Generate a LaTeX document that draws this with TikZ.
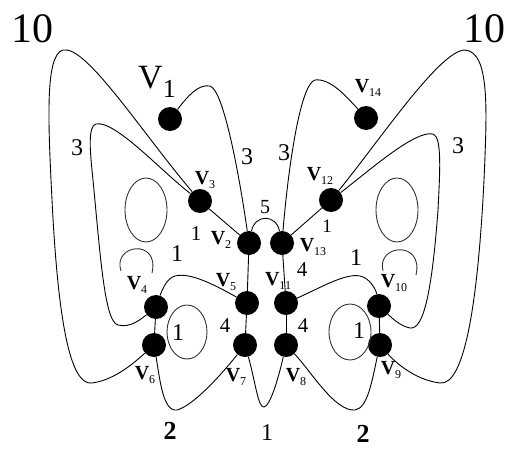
\documentclass[tikz,border=0pt]{standalone}
\usepackage{fontspec}
\setmainfont{Liberation Serif}
\usepackage{tikz}
\usetikzlibrary{positioning}

\newcommand{\vlab}[1]{\textbf{V}\raisebox{-.35ex}{\fontsize{12}{12}\selectfont #1}}

\begin{document}
\begin{tikzpicture}[
  x=1pt, y=-1pt,
  vtx/.style={circle, fill=black, inner sep=0pt, minimum size=24pt},
  edge/.style={line width=0.9pt},
  oval/.style={line width=0.9pt, draw=black!80},
  vname/.style={font=\fontsize{20}{20}\selectfont, inner sep=0pt},
  wt/.style={font=\fontsize{24}{24}\selectfont, inner sep=0pt},
  bigwt/.style={font=\fontsize{42}{42}\selectfont, inner sep=0pt},
]
\useasboundingbox (0,0) rectangle (516,450);
% ---------------- vertices -----------------
\node[vtx] (v1) at (170,119) {};
\node[vtx] (v14) at (366,118) {};
\node[vtx] (v3) at (200,201) {};
\node[vtx] (v12) at (331,200) {};
\node[vtx] (v2) at (249,243) {};
\node[vtx] (v13) at (282,243) {};
\node[vtx] (v5) at (247,303) {};
\node[vtx] (v11) at (286,303) {};
\node[vtx] (v7) at (245,345) {};
\node[vtx] (v8) at (286,345) {};
\node[vtx] (v4) at (156,307) {};
\node[vtx] (v6) at (154,345) {};
\node[vtx] (v10) at (379,306) {};
\node[vtx] (v9) at (380,345) {};
% ---------------- vertex names -----------------
\node[inner sep=0pt, font=\fontsize{34}{34}\selectfont] (n1) at (157,82) {V\raisebox{-.25em}{\fontsize{26}{26}\selectfont 1}};
\node[vname] (n14) at (368,88) {\vlab{14}};
\node[vname] (n3) at (205,180) {\vlab{3}};
\node[vname] (n12) at (320,176) {\vlab{12}};
\node[vname] (n2) at (221,240) {\vlab{2}};
\node[vname] (n13) at (313,247) {\vlab{13}};
\node[vname] (n5) at (226,282) {\vlab{5}};
\node[vname] (n11) at (278,281) {\vlab{11}};
\node[vname] (n4) at (137,285) {\vlab{4}};
\node[vname] (n6) at (145,375) {\vlab{6}};
\node[vname] (n7) at (236,377) {\vlab{7}};
\node[vname] (n8) at (296,377) {\vlab{8}};
\node[vname] (n9) at (391,370) {\vlab{9}};
\node[vname] (n10) at (394,283) {\vlab{10}};
% ---------------- weights -----------------
\node[bigwt] (w10l) at (32,29) {10};
\node[bigwt] (w10r) at (484,29) {10};
\node[wt] (w3a) at (77,148) {3};
\node[wt] (w3b) at (458,146) {3};
\node[wt] (w3c) at (247,157) {3};
\node[wt] (w3d) at (284,153) {3};
\node[wt, font=\fontsize{21}{21}\selectfont] (w1a) at (196,234) {1};
\node[wt, font=\fontsize{20}{20}\selectfont] (w5) at (265,207) {5};
\node[wt, font=\fontsize{19}{19}\selectfont] (w1b) at (327,226) {1};
\node[wt] (w1c) at (177,254) {1};
\node[wt] (w1d) at (356,258) {1};
\node[wt, font=\fontsize{21}{21}\selectfont] (w4a) at (302,270) {4};
\node[wt, font=\fontsize{21}{21}\selectfont] (w4b) at (225,326) {4};
\node[wt, font=\fontsize{21}{21}\selectfont] (w4c) at (303,326) {4};
\node[wt] (w1e) at (178,333) {1};
\node[wt] (w1f) at (359,331) {1};
\node[wt, font=\bfseries\fontsize{26}{26}\selectfont] (w2a) at (170,431) {2};
\node[wt, font=\bfseries\fontsize{26}{26}\selectfont] (w2b) at (363,434) {2};
\node[wt] (w1g) at (267,433) {1};
% ---------------- straight edges -----------------
\draw[edge] (v3) -- (v2);
\draw[edge] (v12) -- (v13);
\draw[edge] (v2) -- (v5);
\draw[edge] (v5) -- (v7);
\draw[edge] (v13) -- (v11);
\draw[edge] (v11) -- (v8);
\draw[edge] (v4) -- (v6);
\draw[edge] (v10) -- (v9);
% ---------------- curved edges -----------------
\draw[edge] (v1) .. controls (188,96) and (198,84) .. (210,86)
  .. controls (224,90) and (240,180) .. (v2);
\draw[edge] (v14) .. controls (346,96) and (330,78) .. (315,80)
  .. controls (300,84) and (288,170) .. (v13);
\draw[edge] (v2) .. controls (255,214) and (276,214) .. (v13);
\draw[edge] (v3) .. controls (140,130) and (86,45) .. (63,50)
  .. controls (45,55) and (48,120) .. (52,200)
  .. controls (58,320) and (70,386) .. (92,383)
  .. controls (115,380) and (135,362) .. (v6);
\draw[edge] (v3) .. controls (160,170) and (115,120) .. (96,124)
  .. controls (88,126) and (90,150) .. (92,170)
  .. controls (100,250) and (104,322) .. (118,325)
  .. controls (130,328) and (140,320) .. (v4);
\draw[edge] (v12) .. controls (380,140) and (440,50) .. (465,50)
  .. controls (490,52) and (487,110) .. (484,180)
  .. controls (478,300) and (465,386) .. (440,383)
  .. controls (415,380) and (395,362) .. (v9);
\draw[edge] (v12) .. controls (370,170) and (415,130) .. (433,134)
  .. controls (442,137) and (440,170) .. (438,210)
  .. controls (432,290) and (424,330) .. (410,328)
  .. controls (400,326) and (392,318) .. (v10);
\draw[edge] (v5) .. controls (215,285) and (190,272) .. (175,276)
  .. controls (167,278) and (162,290) .. (v4);
\draw[edge] (v11) .. controls (320,288) and (345,273) .. (360,276)
  .. controls (370,278) and (376,290) .. (v10);
\draw[edge] (v6) .. controls (160,380) and (163,412) .. (177,410)
  .. controls (195,405) and (225,370) .. (v7);
\draw[edge] (v8) .. controls (310,370) and (335,412) .. (355,410)
  .. controls (368,408) and (372,380) .. (v9);
\draw[edge] (v7) .. controls (255,380) and (258,408) .. (264,407)
  .. controls (270,406) and (278,380) .. (v8);
% ---------------- loops and ovals -----------------
\coordinate (l4a) at (121,271);
\coordinate (l4b) at (152,273);
\coordinate (l10a) at (383,271);
\coordinate (l10b) at (416,275);
\draw[oval] (l4a) .. controls (112,244) and (160,238) .. (l4b);
\draw[oval] (l10a) .. controls (376,244) and (424,240) .. (l10b);
\draw[oval] (146,210) ellipse [x radius=21, y radius=32];
\draw[oval] (397,210) ellipse [x radius=21, y radius=32];
\draw[oval] (187,332) ellipse [x radius=20, y radius=27];
\draw[oval] (350,332) ellipse [x radius=21, y radius=28];
\end{tikzpicture}
\end{document}
